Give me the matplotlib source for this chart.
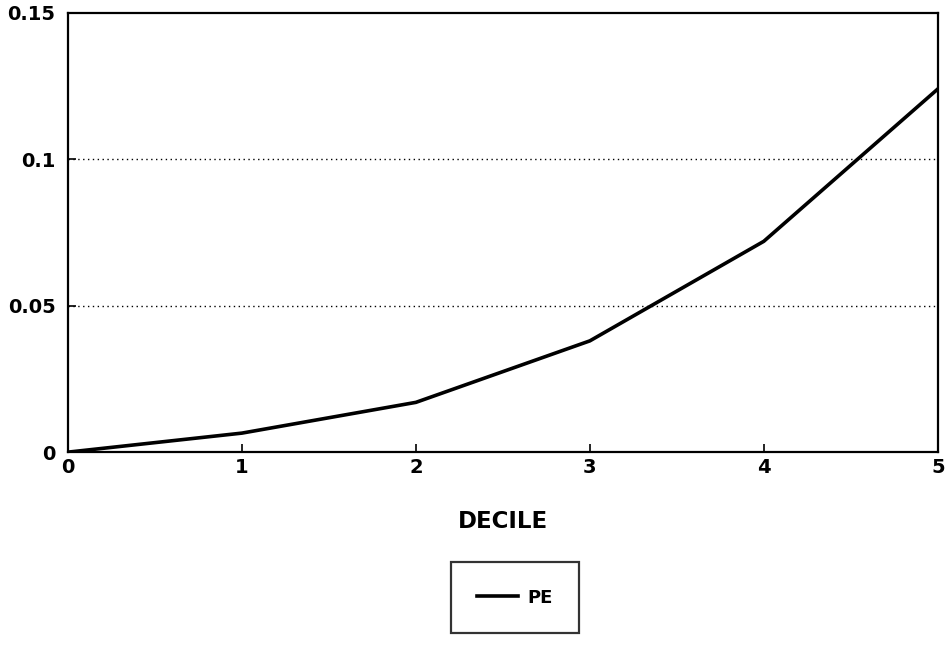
import matplotlib
matplotlib.use("Agg")
import matplotlib.pyplot as plt

deciles = [0, 1, 2, 3, 4, 5]
pe = [0.0, 0.0065, 0.017, 0.038, 0.072, 0.124]
x_ticks = [0, 1, 2, 3, 4, 5]
y_ticks = [0, 0.05, 0.1, 0.15]
y_tick_labels = ["0", "0.05", "0.1", "0.15"]

plt.rcParams['font.family'] = ['DejaVu Sans']
plt.rcParams['font.weight'] = 'bold'

fig = plt.figure(figsize=(9.48, 6.45), dpi=100)
ax = fig.add_axes([0.0717, 0.299, 0.9175, 0.681])

ax.plot(deciles, pe, color='black', lw=2.6, label='PE', solid_joinstyle='round')
ax.set_xlim(0, 5)
ax.set_ylim(0, 0.15)
ax.set_xticks(x_ticks)
ax.set_xticklabels([str(t) for t in x_ticks])
ax.set_yticks(y_ticks)
ax.set_yticklabels(y_tick_labels)
for y in [0.05, 0.1]:
    ax.axhline(y, color='black', lw=1.0, ls=(0, (1, 2.5)), zorder=0)

ax.tick_params(direction='in', length=6, width=1.2, labelsize=14)
ax.tick_params(axis='x', pad=4)
ax.tick_params(axis='y', pad=9)
for lab in ax.get_xticklabels() + ax.get_yticklabels():
    lab.set_fontweight('bold')
for s in ax.spines.values():
    s.set_linewidth(1.6)

ax.set_xlabel('DECILE', fontsize=16.5, fontweight='bold', labelpad=24)

leg = fig.legend(loc='center', bbox_to_anchor=(0.543, 0.0735), frameon=True,
                 fancybox=False, edgecolor='black', fontsize=13,
                 handlelength=2.3, borderpad=1.45, borderaxespad=0,
                 handletextpad=0.5)
leg.get_frame().set_linewidth(1.6)
for t in leg.get_texts():
    t.set_fontweight('bold')

fig.savefig('out.png', dpi=100)
